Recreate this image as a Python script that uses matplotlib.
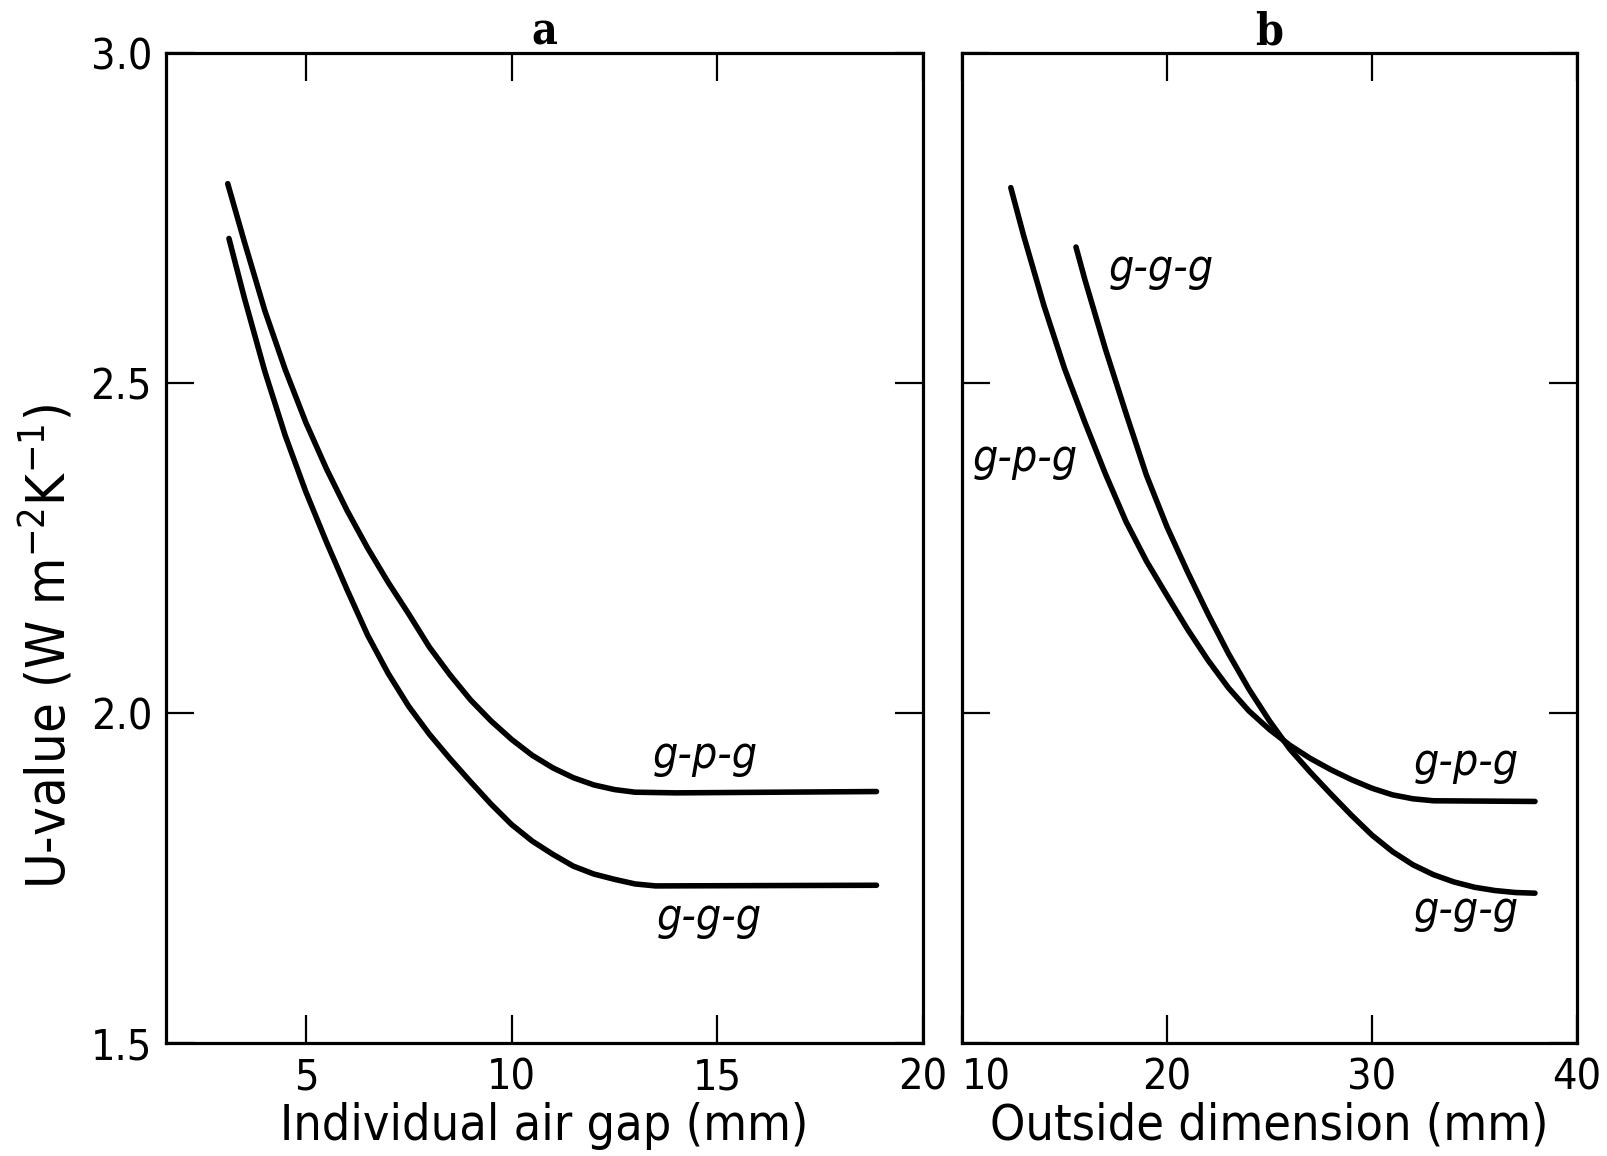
import matplotlib
matplotlib.use("Agg")
import matplotlib.pyplot as plt

# panel a: U-value vs individual air gap (mm)
gap_gpg = [3.10, 3.5, 4.0, 4.5, 5.0, 5.5, 6.0, 6.5, 7.0, 7.5, 8.0, 8.5, 9.0,
           9.5, 10.0, 10.5, 11.0, 11.5, 12.0, 12.5, 13.0, 14.0, 18.87]
u_gap_gpg = [2.802, 2.715, 2.610, 2.520, 2.440, 2.370, 2.307, 2.250, 2.198,
             2.150, 2.100, 2.058, 2.020, 1.988, 1.960, 1.936, 1.917, 1.902,
             1.891, 1.884, 1.880, 1.879, 1.881]
gap_ggg = [3.13, 3.5, 4.0, 4.5, 5.0, 5.5, 6.0, 6.5, 7.0, 7.5, 8.0, 8.5, 9.0,
           9.5, 10.0, 10.5, 11.0, 11.5, 12.0, 12.5, 13.0, 13.5, 18.87]
u_gap_ggg = [2.719, 2.630, 2.518, 2.420, 2.335, 2.259, 2.187, 2.118, 2.060,
             2.010, 1.968, 1.931, 1.896, 1.862, 1.831, 1.806, 1.786, 1.768,
             1.756, 1.748, 1.741, 1.738, 1.739]

# panel b: U-value vs outside dimension (mm)
dim_gpg = [12.38, 13, 14, 15, 16, 17, 18, 19, 20, 21, 22, 23, 24, 25, 26, 27,
           28, 29, 30, 31, 32, 33, 37.95]
u_dim_gpg = [2.796, 2.724, 2.617, 2.522, 2.440, 2.362, 2.290, 2.230, 2.178,
             2.127, 2.080, 2.038, 2.003, 1.975, 1.951, 1.931, 1.914, 1.899,
             1.886, 1.876, 1.870, 1.867, 1.866]
dim_ggg = [15.56, 16, 17, 18, 19, 20, 21, 22, 23, 24, 25, 26, 27, 28, 29, 30,
           31, 32, 33, 34, 35, 36, 37, 37.95]
u_dim_ggg = [2.706, 2.656, 2.551, 2.454, 2.360, 2.282, 2.214, 2.150, 2.090,
             2.036, 1.988, 1.945, 1.910, 1.877, 1.845, 1.815, 1.790, 1.770,
             1.755, 1.744, 1.736, 1.731, 1.728, 1.727]

yticks = [1.5, 2.0, 2.5, 3.0]
ytick_labels = ['1.5', '2.0', '2.5', '3.0']
xticks_a = [5, 10, 15, 20]
xticks_b = [10, 20, 30, 40]

plt.rcParams['font.family'] = ['DejaVu Sans']
plt.rcParams['font.stretch'] = 'condensed'

fig = plt.figure(figsize=(16.08, 11.56), dpi=100)
ax_a = fig.add_axes([166/1608, 1 - 1043/1156, (923-166)/1608, (1043-53)/1156])
ax_b = fig.add_axes([962/1608, 1 - 1043/1156, (1577-962)/1608, (1043-53)/1156])

line_kw = dict(color='black', lw=4.0, solid_capstyle='round', solid_joinstyle='round')
lab_kw = dict(fontsize=32, style='italic', ha='center', va='center')

for ax in (ax_a, ax_b):
    ax.set_ylim(1.5, 3.0)
    ax.set_yticks(yticks)
    for s in ax.spines.values():
        s.set_linewidth(2.3)
    ax.tick_params(direction='in', length=20, width=1.6, top=True, right=True,
                   labelsize=31, pad=10)

ax_a.plot(gap_gpg, u_gap_gpg, **line_kw)
ax_a.plot(gap_ggg, u_gap_ggg, **line_kw)
ax_a.set_xlim(1.6, 20)
ax_a.set_xticks(xticks_a)
ax_a.set_yticklabels(ytick_labels)
ax_a.set_xlabel('Individual air gap (mm)', fontsize=36, labelpad=2)
ax_a.set_ylabel('U-value (W m$^{-2}$K$^{-1}$)', fontsize=39)
ax_a.yaxis.set_label_coords(-0.118, 0.40)
ax_a.text(14.7, 1.935, 'g-p-g', **lab_kw)
ax_a.text(14.8, 1.690, 'g-g-g', **lab_kw)
ax_a.set_title('a', fontsize=32, fontweight='bold', family='DejaVu Serif', pad=6)

ax_b.plot(dim_gpg, u_dim_gpg, **line_kw)
ax_b.plot(dim_ggg, u_dim_ggg, **line_kw)
ax_b.set_xlim(10, 40)
ax_b.set_xticks(xticks_b)
ax_b.set_yticklabels([])
ax_b.xaxis.get_ticklabels()[0].set_horizontalalignment('left')
ax_b.set_xlabel('Outside dimension (mm)', fontsize=36, labelpad=2)
ax_b.text(19.7, 2.674, 'g-g-g', **lab_kw)
ax_b.text(13.1, 2.385, 'g-p-g', **lab_kw)
ax_b.text(34.6, 1.925, 'g-p-g', **lab_kw)
ax_b.text(34.6, 1.700, 'g-g-g', **lab_kw)
ax_b.set_title('b', fontsize=32, fontweight='bold', family='DejaVu Serif', pad=6)

fig.savefig('out.png', dpi=100, facecolor='white')
